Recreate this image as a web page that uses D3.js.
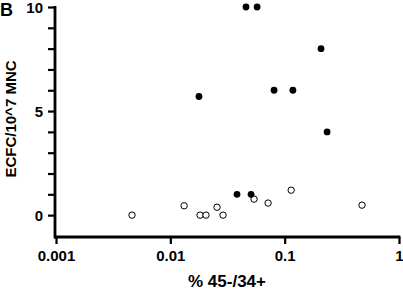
<!DOCTYPE html>
<html>
<head>
<meta charset="utf-8">
<script src="https://cdn.jsdelivr.net/npm/d3@7"></script>
<style>
  body { margin: 0; background: #fff; }
  svg { display: block; font-family: "Liberation Sans", Arial, sans-serif; font-weight: bold; }
</style>
</head>
<body>
<svg id="chart" width="403" height="291"></svg>
<script>
// filled dots
const filledX = [0.0178, 0.0459, 0.0574, 0.208, 0.0808, 0.118, 0.235, 0.0383, 0.0508];
const filledY = [5.7, 10, 10, 8, 6, 6, 4, 1, 1];
// open circles
const openX = [0.00462, 0.0132, 0.0182, 0.0205, 0.0256, 0.0289, 0.054, 0.0716, 0.114, 0.475];
const openY = [0, 0.45, 0, 0, 0.38, 0, 0.77, 0.58, 1.2, 0.48];

const xTicks = [0.001, 0.01, 0.1, 1];
const xTickLabels = ['0.001', '0.01', '0.1', '1'];
const yMajor = [0, 5, 10];
const yMinor = [1, 2, 3, 4, 6, 7, 8, 9];

const svg = d3.select('#chart');

const x = d3.scaleLog().domain([0.001, 1]).range([56, 399]);
const y = d3.scaleLinear().domain([-1.05, 10]).range([237, 7]);

// y axis
const yAxis = d3.axisLeft(y)
  .tickValues(yMajor.concat(yMinor))
  .tickSize(7)
  .tickSizeOuter(0)
  .tickFormat(d => yMajor.includes(d) ? d : '');

const gy = svg.append('g')
  .attr('transform', 'translate(55,0)')
  .call(yAxis);
gy.select('.domain').attr('stroke', '#000').attr('stroke-width', 2.8)
  .attr('d', 'M0,' + (y(10) - 1) + 'V' + 238.4);
gy.selectAll('.tick line').attr('stroke', '#000').attr('stroke-width', 2.2);
gy.selectAll('.tick text')
  .attr('x', -12)
  .attr('dy', '0.36em')
  .style('font-size', '15px')
  .style('font-weight', 'bold')
  .style('font-family', '"Liberation Sans", Arial, sans-serif')
  .attr('fill', '#000');

// x axis
const xAxis = d3.axisBottom(x)
  .tickValues(xTicks)
  .tickSize(7)
  .tickSizeOuter(0)
  .tickFormat((d, i) => xTickLabels[i]);

const gx = svg.append('g')
  .attr('transform', 'translate(0,237)')
  .call(xAxis);
gx.select('.domain').attr('stroke', '#000').attr('stroke-width', 2.8)
  .attr('d', 'M54,0H' + 400.4);
gx.selectAll('.tick line').attr('stroke', '#000').attr('stroke-width', 2.2);
gx.selectAll('.tick text')
  .attr('y', 13)
  .attr('dy', '0.71em')
  .style('font-size', '15px')
  .style('font-weight', 'bold')
  .style('font-family', '"Liberation Sans", Arial, sans-serif')
  .attr('fill', '#000');

// points
const filled = filledX.map((v, i) => [v, filledY[i]]);
const open = openX.map((v, i) => [v, openY[i]]);

svg.append('g').selectAll('circle')
  .data(open)
  .join('circle')
  .attr('cx', d => x(d[0]))
  .attr('cy', d => y(d[1]))
  .attr('r', 3.2)
  .attr('fill', '#fff')
  .attr('stroke', '#000')
  .attr('stroke-width', 1);

svg.append('g').selectAll('circle')
  .data(filled)
  .join('circle')
  .attr('cx', d => x(d[0]))
  .attr('cy', d => y(d[1]))
  .attr('r', 3.4)
  .attr('fill', '#000');

// titles
svg.append('text')
  .attr('x', 227)
  .attr('y', 287)
  .attr('text-anchor', 'middle')
  .style('font-size', '17px')
  .text('% 45-/34+');

svg.append('text')
  .attr('transform', 'translate(16,119) rotate(-90)')
  .attr('text-anchor', 'middle')
  .style('font-size', '15px')
  .text('ECFC/10^7 MNC');

svg.append('text')
  .attr('x', 0)
  .attr('y', 16)
  .style('font-size', '18px')
  .text('B');
</script>
</body>
</html>
